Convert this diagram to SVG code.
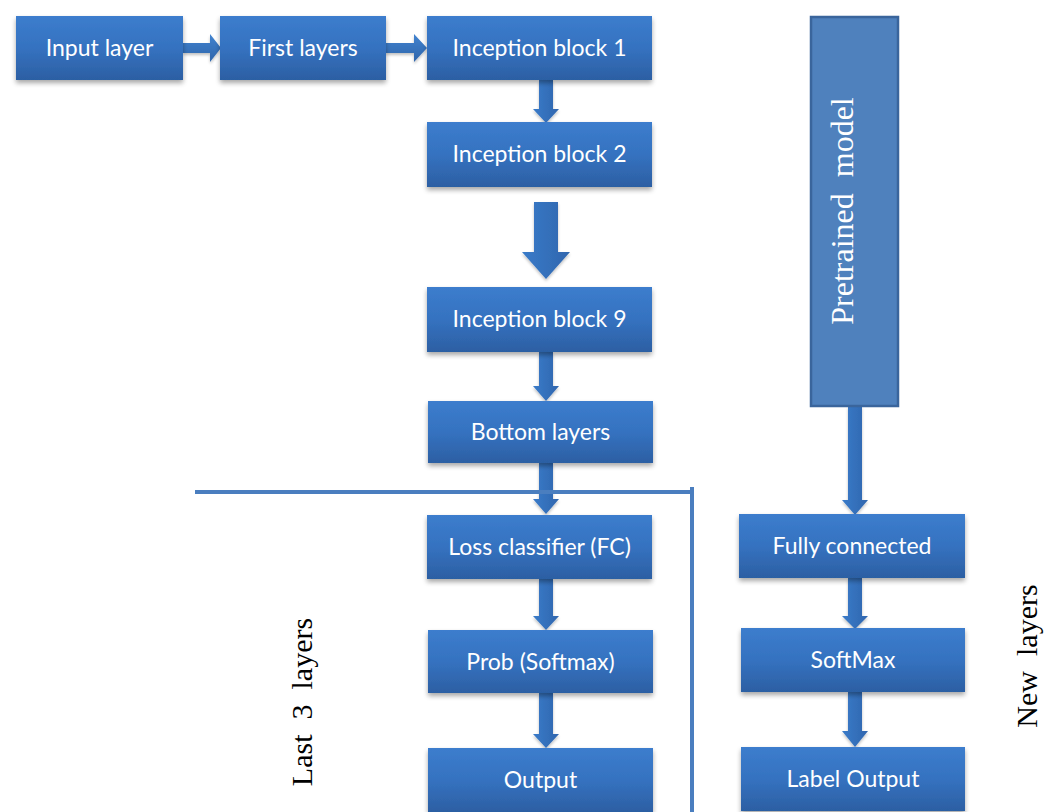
<svg xmlns="http://www.w3.org/2000/svg" width="1056" height="812" viewBox="0 0 1056 812">
<defs>
<linearGradient id="gBox" x1="0" y1="0" x2="0" y2="1">
<stop offset="0" stop-color="#3c7dcd"/>
<stop offset="0.5" stop-color="#3572c0"/>
<stop offset="1" stop-color="#2c5fa3"/>
</linearGradient>
<linearGradient id="gArrH" x1="0" y1="0" x2="0" y2="1">
<stop offset="0" stop-color="#4183d0"/>
<stop offset="1" stop-color="#2f65aa"/>
</linearGradient>
<linearGradient id="gArrV" x1="0" y1="0" x2="1" y2="0">
<stop offset="0" stop-color="#3a7bc9"/>
<stop offset="1" stop-color="#2f66ae"/>
</linearGradient>
<filter id="sh" x="-10%" y="-10%" width="120%" height="140%">
<feGaussianBlur in="SourceAlpha" stdDeviation="2.5"/>
<feOffset dx="0" dy="3" result="b"/>
<feComponentTransfer><feFuncA type="linear" slope="0.35"/></feComponentTransfer>
<feMerge><feMergeNode/><feMergeNode in="SourceGraphic"/></feMerge>
</filter>
<filter id="sh2" x="-20%" y="-20%" width="140%" height="140%">
<feGaussianBlur in="SourceAlpha" stdDeviation="1.5"/>
<feOffset dx="0" dy="2" result="b"/>
<feComponentTransfer><feFuncA type="linear" slope="0.25"/></feComponentTransfer>
<feMerge><feMergeNode/><feMergeNode in="SourceGraphic"/></feMerge>
</filter>
</defs>
<style>
.box{fill:url(#gBox);filter:url(#sh);}
.lbl{font-family:Lato,"Open Sans","Liberation Sans",sans-serif;font-size:23px;fill:#ffffff;text-anchor:middle;}
.ser{font-family:"Liberation Serif","Times New Roman",serif;font-size:30px;text-anchor:middle;white-space:pre;}
.ah{fill:url(#gArrH);filter:url(#sh2);}
.av{fill:url(#gArrV);filter:url(#sh2);}
.ln{stroke:#4a7ebf;stroke-width:4;fill:none;}
</style>
<rect width="1056" height="812" fill="#ffffff"/>

<g id="connectors">
<path class="ah" d="M183,43 H210 V34 L221,48 L210,62 V53 H183 Z"/>
<path class="ah" d="M385,43 H414 V34 L427,48 L414,62 V53 H385 Z"/>
<path class="av" d="M539,80 V109 H533 L546,123 L559,109 H553 V80 Z"/>
<path class="av" d="M534,202 V252 H522 L546,279 L570,252 H558 V202 Z"/>
<path class="av" d="M539,352 V386 H533 L546,401 L559,386 H553 V352 Z"/>
<path class="av" d="M539,463 V499 H533 L546,514 L559,499 H553 V463 Z"/>
<path class="av" d="M539,579 V616 H533 L546,630 L559,616 H553 V579 Z"/>
<path class="av" d="M539,693 V734 H533 L546,748 L559,734 H553 V693 Z"/>
<path class="av" d="M848,406 V500 H842 L855,515 L868,500 H862 V406 Z"/>
<path class="av" d="M848,578 V616 H842 L855,629 L868,616 H862 V578 Z"/>
<path class="av" d="M848,692 V731 H842 L855,747 L868,731 H862 V692 Z"/>
<path class="ln" d="M195,492 H692 M692,487 V812"/>
</g>

<g id="n-input"><rect class="box" x="16" y="16" width="167" height="64"/><text class="lbl" x="99.5" y="56">Input layer</text></g>
<g id="n-first"><rect class="box" x="220" y="16" width="166" height="64"/><text class="lbl" x="303" y="56">First layers</text></g>
<g id="n-ib1"><rect class="box" x="427" y="16" width="225" height="64"/><text class="lbl" x="539.5" y="56">Inception block 1</text></g>
<g id="n-ib2"><rect class="box" x="427" y="122" width="225" height="65"/><text class="lbl" x="539.5" y="162">Inception block 2</text></g>
<g id="n-ib9"><rect class="box" x="427" y="287" width="225" height="65"/><text class="lbl" x="539.5" y="327">Inception block 9</text></g>
<g id="n-bottom"><rect class="box" x="428" y="401" width="225" height="62"/><text class="lbl" x="540.5" y="440">Bottom layers</text></g>
<g id="n-loss"><rect class="box" x="427" y="515" width="225" height="64"/><text class="lbl" x="539.5" y="555">Loss classifier (FC)</text></g>
<g id="n-prob"><rect class="box" x="428" y="630" width="225" height="63"/><text class="lbl" x="540.5" y="670">Prob (Softmax)</text></g>
<g id="n-output"><rect class="box" x="428" y="748" width="225" height="64"/><text class="lbl" x="540.5" y="788">Output</text></g>

<g id="n-pretrained"><rect x="811" y="17" width="87" height="389" fill="#4f81bd" stroke="#3a659c" stroke-width="2.5"/><text class="ser" fill="#ffffff" style="font-size:32px" transform="translate(853,211) rotate(-90)">Pretrained  model</text></g>
<g id="n-fc"><rect class="box" x="739" y="514" width="226" height="64"/><text class="lbl" x="852" y="554">Fully connected</text></g>
<g id="n-softmax"><rect class="box" x="741" y="628" width="224" height="64"/><text class="lbl" x="853" y="668">SoftMax</text></g>
<g id="n-label"><rect class="box" x="741" y="747" width="224" height="64"/><text class="lbl" x="853" y="787">Label Output</text></g>

<g id="t-last"><text class="ser" fill="#000000" transform="translate(312,702) rotate(-90)">Last  3  layers</text></g>
<g id="t-new"><text class="ser" fill="#000000" transform="translate(1037,656) rotate(-90)">New  layers</text></g>
</svg>
